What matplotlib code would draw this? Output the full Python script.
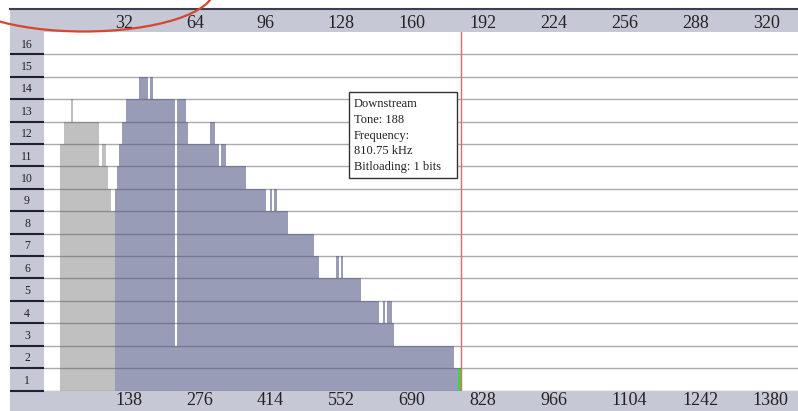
import matplotlib
matplotlib.use("Agg")
import matplotlib.pyplot as plt
from matplotlib.patches import Rectangle, Ellipse
import numpy as np

plt.rcParams['font.family'] = ['Liberation Serif', 'DejaVu Serif']

# upstream bit loading, as runs: first tone of each run and its bits
us_first = [8, 10, 13, 14, 26, 27, 29, 30, 31]
us_bits = [11, 12, 13, 12, 10, 11, 10, 9, 8]
us_last = 32

# downstream bit loading, same run format
ds_first = [33, 34, 35, 36, 38, 44, 48, 49, 50, 60,
            61, 65, 66, 76, 78, 80, 81, 83, 92, 101,
            103, 104, 105, 106, 111, 123, 125, 133, 134, 135,
            136, 144, 152, 154, 155, 156, 158, 159, 186]
ds_bits = [9, 10, 11, 12, 13, 14, 13, 14, 13, 2,
           13, 12, 11, 12, 11, 10, 11, 10, 9, 8,
           9, 8, 9, 8, 7, 6, 5, 6, 5, 6,
           5, 4, 3, 4, 3, 4, 3, 2, 1]
ds_last = 188

hover_tone = 188
tip_lines = ["Downstream", "Tone: 188", "Frequency:", "810.75 kHz", "Bitloading: 1 bits"]

tone_ticks = [32, 64, 96, 128, 160, 192, 224, 256, 288, 320]
freq_labels = ["138", "276", "414", "552", "690", "828", "966", "1104", "1242", "1380"]
bit_rows = list(range(1, 17))


def expand(first, bits, last):
    lengths = np.diff(first + [last + 1])
    return np.arange(first[0], last + 1), np.repeat(bits, lengths)


W, H = 798, 411
fig = plt.figure(figsize=(W / 100, H / 100), dpi=100)


def fx(x):
    return x / W


def fy(y):
    return 1 - y / H


band = '#c6c8d6'
x_left, x_right, y_top, y_bot = 44.1, 798.0, 31.9, 390.5
px_per_tone = 2.215

ax = fig.add_axes([fx(x_left), fy(y_bot), (x_right - x_left) / W, (y_bot - y_top) / H])

# bands around the plot area
fig.add_artist(Rectangle((fx(10), fy(y_top)), (W - 10) / W, (y_top - 9) / H,
                         transform=fig.transFigure, color=band, lw=0, zorder=-2))
fig.add_artist(Rectangle((fx(10), fy(y_bot)), 34.1 / W, (y_bot - y_top) / H,
                         transform=fig.transFigure, color=band, lw=0, zorder=-2))
fig.add_artist(Rectangle((fx(10), 0), (W - 10) / W, (H - y_bot) / H,
                         transform=fig.transFigure, color=band, lw=0, zorder=-2))
fig.add_artist(plt.Line2D([fx(10), 1], [fy(9.5), fy(9.5)], transform=fig.transFigure,
                          color='#3c3f52', lw=1.5, zorder=-1))

# bars
us_t, us_b = expand(us_first, us_bits, us_last)
ds_t, ds_b = expand(ds_first, ds_bits, ds_last)
ax.bar(us_t, us_b, width=-1.0, align='edge', color='#c0c0c0', lw=0, zorder=2)
ds_colors = ['#3fd645' if t == hover_tone else '#999cb7' for t in ds_t]
ax.bar(ds_t, ds_b, width=-1.0, align='edge', color=ds_colors, lw=0, zorder=2)

# grid lines drawn over the bars
for b in range(0, 16):
    ax.axhline(b, color='#55566a', alpha=0.5, lw=1, zorder=3)
ax.hlines(range(0, 16), -(x_left - 10) / (x_right - x_left), 0,
          transform=ax.get_yaxis_transform(), color='#1e2233', lw=1.5, clip_on=False, zorder=3)

ax.axvline(hover_tone, color='#e26a6a', lw=1, zorder=4)

ax.set_xlim(0, (x_right - x_left) / px_per_tone)
ax.set_ylim(0, 16)
for s in ax.spines.values():
    s.set_visible(False)

ax.set_xticks(tone_ticks, freq_labels)
ax.tick_params(axis='x', length=0, pad=1, labelsize=13, labelcolor='#222222')
plt.setp(ax.get_xticklabels(), ha='left')

ax.set_yticks(np.array(bit_rows) - 0.5, [str(b) for b in bit_rows])
ax.tick_params(axis='y', length=0, pad=12.3, labelsize=8.5, labelcolor='#222222')
plt.setp(ax.get_yticklabels(), ha='center')

top = ax.secondary_xaxis('top')
top.set_xticks(tone_ticks, [str(t) for t in tone_ticks])
top.tick_params(length=0, pad=0, labelsize=13, labelcolor='#222222')
plt.setp(top.get_xticklabels(), ha='left')
for s in top.spines.values():
    s.set_visible(False)

# tooltip
fig.add_artist(Rectangle((fx(349.3), fy(178)), 108 / W, 86 / H, transform=fig.transFigure,
                         facecolor='white', edgecolor='#333333', lw=1, zorder=5))
for i, line in enumerate(tip_lines):
    fig.text(fx(353.5), fy(104 + i * 15.8), line, fontsize=9, color='#222222',
             va='center', ha='left', zorder=6)

# red hand-drawn circle in the corner
fig.add_artist(Ellipse((fx(84), fy(-10.2)), 260 / W, 83.4 / H, transform=fig.transFigure,
                       fill=False, ec='#d6462f', lw=1.6, zorder=10))

fig.savefig('out.png', dpi=100, facecolor='white')
